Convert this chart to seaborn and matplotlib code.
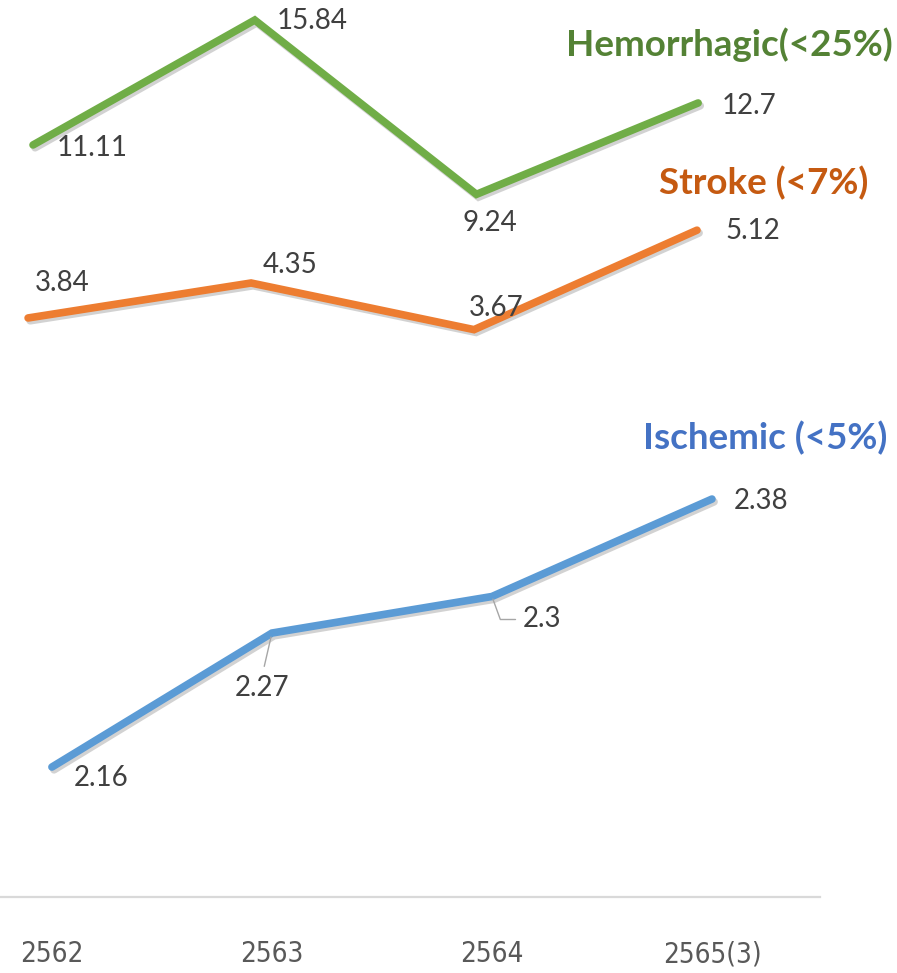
import matplotlib
matplotlib.use("Agg")
import matplotlib.pyplot as plt
import matplotlib.patheffects as pe
import seaborn as sns
import pandas as pd

# Chart data
years = ["2562", "2563", "2564", "2565(3)"]
hemorrhagic = [11.11, 15.84, 9.24, 12.7]
stroke = [3.84, 4.35, 3.67, 5.12]
ischemic = [2.16, 2.27, 2.30, 2.38]

sns.set_style("white")
plt.rcParams['font.family'] = ['Lato', 'DejaVu Sans']

fig = plt.figure(figsize=(8.97, 9.73), dpi=100)

label_color = "#404040"
shadow = [pe.SimpleLineShadow(offset=(1.5, -2), shadow_color="#7f7f7f", alpha=0.35), pe.Normal()]

# each series is its own little chart, stacked on top of each other
ax_b = fig.add_axes([0, 1 - 897 / 973, 820 / 897, 897 / 973])
ax_g = fig.add_axes([0, 0, 1, 1])
ax_o = fig.add_axes([0, 0, 1, 1])
for ax in (ax_g, ax_o):
    ax.patch.set_alpha(0)
    ax.axis("off")

df = pd.DataFrame({"x": range(len(years)), "hem": hemorrhagic, "stroke": stroke, "isch": ischemic})

sns.lineplot(data=df, x="x", y="hem", ax=ax_g, color="#70AD47", lw=5.5,
             solid_capstyle="round", solid_joinstyle="miter", path_effects=shadow)
sns.lineplot(data=df, x="x", y="stroke", ax=ax_o, color="#ED7D31", lw=5.5,
             solid_capstyle="round", solid_joinstyle="miter", path_effects=shadow)
sns.lineplot(data=df, x="x", y="isch", ax=ax_b, color="#5B9BD5", lw=5.5,
             solid_capstyle="round", solid_joinstyle="miter", path_effects=shadow)

# scales picked so each line sits in its own band
ax_g.set_xlim(-0.149, 3.897)
ax_g.set_ylim(-20.25, 16.60)
ax_o.set_xlim(-0.126, 3.897)
ax_o.set_ylim(-5.71, 8.476)
ax_b.set_xlim(-0.236, 3.491)
ax_b.set_ylim(2.0533, 2.7897)

# blue chart carries the category axis
ax_b.set_xticks(range(len(years)))
ax_b.set_xticklabels(years, family=['DejaVu Sans'], fontstretch='condensed',
                     fontweight='light', fontsize=20, color="#595959")
ax_b.tick_params(axis="x", length=0, pad=31)
ax_b.set_yticks([])
ax_b.set_xlabel("")
ax_b.set_ylabel("")
for s in ["top", "left", "right"]:
    ax_b.spines[s].set_visible(False)
ax_b.spines["bottom"].set_color("#d9d9d9")
ax_b.spines["bottom"].set_linewidth(1.6)
ax_b.patch.set_alpha(0)

# data labels (offsets in pixels)
g_off = [(24, -3, "left"), (22, -1, "left"), (13, -29, "center"), (24, -3, "left")]
o_off = [(7, 35, "left"), (12, 18, "left"), (-5, 22, "left"), (28, -1, "left")]
b_off = [(22, -11, "left"), (-37, -55, "left"), (31, -23, "left"), (22, -2, "left")]

for i, v in enumerate(hemorrhagic):
    dx, dy, ha = g_off[i]
    ax_g.annotate(f"{v:g}", (i, v), xytext=(dx, dy), textcoords="offset pixels",
                  ha=ha, va="center", fontsize=20, color=label_color)
for i, v in enumerate(stroke):
    dx, dy, ha = o_off[i]
    ax_o.annotate(f"{v:g}", (i, v), xytext=(dx, dy), textcoords="offset pixels",
                  ha=ha, va="center", fontsize=20, color=label_color)
for i, v in enumerate(ischemic):
    dx, dy, ha = b_off[i]
    arrow = None
    if i == 1:
        arrow = dict(arrowstyle="-", color="#a6a6a6", lw=1, relpos=(0.5, 1), shrinkA=4, shrinkB=3)
    if i == 2:
        arrow = dict(arrowstyle="-", color="#a6a6a6", lw=1, relpos=(0, 0.5), shrinkA=3, shrinkB=2,
                     connectionstyle="angle,angleA=0,angleB=-70,rad=0")
    ax_b.annotate(f"{v:g}", (i, v), xytext=(dx, dy), textcoords="offset pixels",
                  ha=ha, va="center", fontsize=20, color=label_color, arrowprops=arrow)

# series titles
fig.text(893 / 897, 1 - 45 / 973, "Hemorrhagic(<25%)", ha="right", va="center",
         fontsize=26.5, fontweight="bold", color="#548235")
fig.text(868 / 897, 1 - 183 / 973, "Stroke (<7%)", ha="right", va="center",
         fontsize=26.5, fontweight="bold", color="#C55A11")
fig.text(887 / 897, 1 - 438 / 973, "Ischemic (<5%)", ha="right", va="center",
         fontsize=26.5, fontweight="bold", color="#4472C4")

fig.savefig("out.png", dpi=100)
